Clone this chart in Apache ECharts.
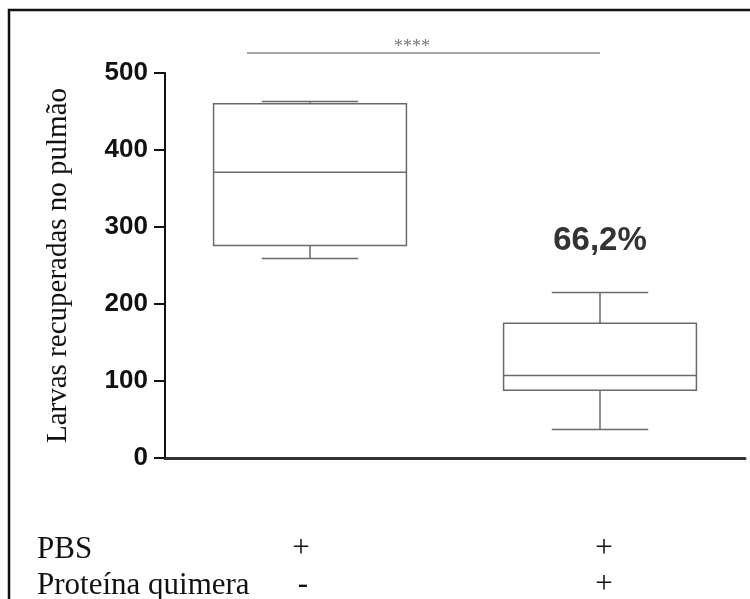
<!DOCTYPE html>
<html>
<head>
<meta charset="utf-8">
<script src="https://cdn.jsdelivr.net/npm/echarts@6/dist/echarts.min.js"></script>
<style>
  html, body { margin: 0; padding: 0; background: #fff; }
  #main { width: 750px; height: 599px; }
</style>
</head>
<body>
<div id="main"></div>
<script>
// groups and box statistics [min, q1, median, q3, max]
var groups = ["PBS", "PBS + Proteína quimera"];
var boxStats = [
  [259, 276, 371, 460, 463],
  [37, 88, 107, 175, 215]
];
var yTicks = [0, 100, 200, 300, 400, 500];
var rowLabels = ["PBS", "Proteína quimera"];
var pbsSigns = ["+", "+"];
var proteinSigns = ["-", "+"];
var reductionText = "66,2%";
var sigText = "****";

var seriesData = boxStats.map(function (s, i) {
  return [i].concat(s);
});

var myChart = echarts.init(document.getElementById("main"));

function renderBox(params, api) {
  var idx = api.value(0);
  var band = api.size([1, 0])[0];
  var boxW = band * 0.665;
  var capW = boxW * 0.5;
  var x = api.coord([idx, 0])[0];
  var yMin = api.coord([idx, api.value(1)])[1];
  var yQ1 = api.coord([idx, api.value(2)])[1];
  var yMed = api.coord([idx, api.value(3)])[1];
  var yQ3 = api.coord([idx, api.value(4)])[1];
  var yMax = api.coord([idx, api.value(5)])[1];
  var st = { stroke: "#6a6a6a", lineWidth: 1.5, fill: null };
  return {
    type: "group",
    children: [
      { type: "rect", shape: { x: x - boxW / 2, y: yQ3, width: boxW, height: yQ1 - yQ3 }, style: { stroke: "#6a6a6a", lineWidth: 1.5, fill: "#fff" } },
      { type: "line", shape: { x1: x - boxW / 2, y1: yMed, x2: x + boxW / 2, y2: yMed }, style: st },
      { type: "line", shape: { x1: x, y1: yQ3, x2: x, y2: yMax }, style: st },
      { type: "line", shape: { x1: x, y1: yQ1, x2: x, y2: yMin }, style: st },
      { type: "line", shape: { x1: x - capW / 2, y1: yMax, x2: x + capW / 2, y2: yMax }, style: st },
      { type: "line", shape: { x1: x - capW / 2, y1: yMin, x2: x + capW / 2, y2: yMin }, style: st }
    ]
  };
}

var serif = "'Liberation Serif', 'DejaVu Serif', serif";
var sans = "'Liberation Sans', Arial, sans-serif";

var option = {
  backgroundColor: "#fff",
  animation: false,
  grid: { left: 165, right: 5, top: 73, bottom: 141, containLabel: false },
  xAxis: {
    type: "category",
    data: groups,
    boundaryGap: true,
    axisLine: { show: true, lineStyle: { color: "#333", width: 3 } },
    axisTick: { show: false },
    axisLabel: { show: false },
    splitLine: { show: false }
  },
  yAxis: {
    type: "value",
    min: 0,
    max: 500,
    interval: 100,
    axisLine: { show: true, lineStyle: { color: "#111", width: 2 } },
    axisTick: { show: true, length: 11, lineStyle: { color: "#111", width: 2 } },
    axisLabel: {
      margin: 17,
      color: "#111",
      fontFamily: sans,
      fontWeight: "bold",
      fontSize: 26,
      formatter: function (v) { return yTicks.indexOf(v) >= 0 ? String(v) : ""; }
    },
    splitLine: { show: false },
    name: "Larvas recuperadas no pulmão",
    nameLocation: "middle",
    nameGap: 92,
    nameRotate: 90,
    nameTextStyle: { fontFamily: serif, fontSize: 29, color: "#111" }
  },
  series: [{
    type: "custom",
    renderItem: renderBox,
    encode: { x: 0, y: [1, 2, 3, 4, 5] },
    data: seriesData,
    z: 3
  }],
  graphic: [
    { type: "rect", shape: { x: 9, y: 10, width: 800, height: 700 }, style: { fill: null, stroke: "#111", lineWidth: 2.5 }, silent: true },
    { type: "line", shape: { x1: 247, y1: 53, x2: 600, y2: 53 }, style: { stroke: "#8a8a8a", lineWidth: 1.5 } },
    { type: "text", x: 412, y: 47, style: { text: sigText, fill: "#777", font: "18px " + serif, textAlign: "center", textVerticalAlign: "middle" } },
    { type: "text", x: 600, y: 241, style: { text: reductionText, fill: "#333", font: "bold 33px " + sans, textAlign: "center", textVerticalAlign: "middle" } },
    { type: "text", x: 37, y: 550, style: { text: rowLabels[0], fill: "#111", font: "31px " + serif, textVerticalAlign: "middle" } },
    { type: "text", x: 37, y: 586, style: { text: rowLabels[1], fill: "#111", font: "31px " + serif, textVerticalAlign: "middle" } },
    { type: "text", x: 301, y: 549, style: { text: pbsSigns[0], fill: "#111", font: "31px " + serif, textAlign: "center", textVerticalAlign: "middle" } },
    { type: "text", x: 604, y: 549, style: { text: pbsSigns[1], fill: "#111", font: "31px " + serif, textAlign: "center", textVerticalAlign: "middle" } },
    { type: "text", x: 303, y: 585, style: { text: proteinSigns[0], fill: "#111", font: "31px " + serif, textAlign: "center", textVerticalAlign: "middle" } },
    { type: "text", x: 604, y: 585, style: { text: proteinSigns[1], fill: "#111", font: "31px " + serif, textAlign: "center", textVerticalAlign: "middle" } }
  ]
};

option && myChart.setOption(option);
</script>
</body>
</html>
